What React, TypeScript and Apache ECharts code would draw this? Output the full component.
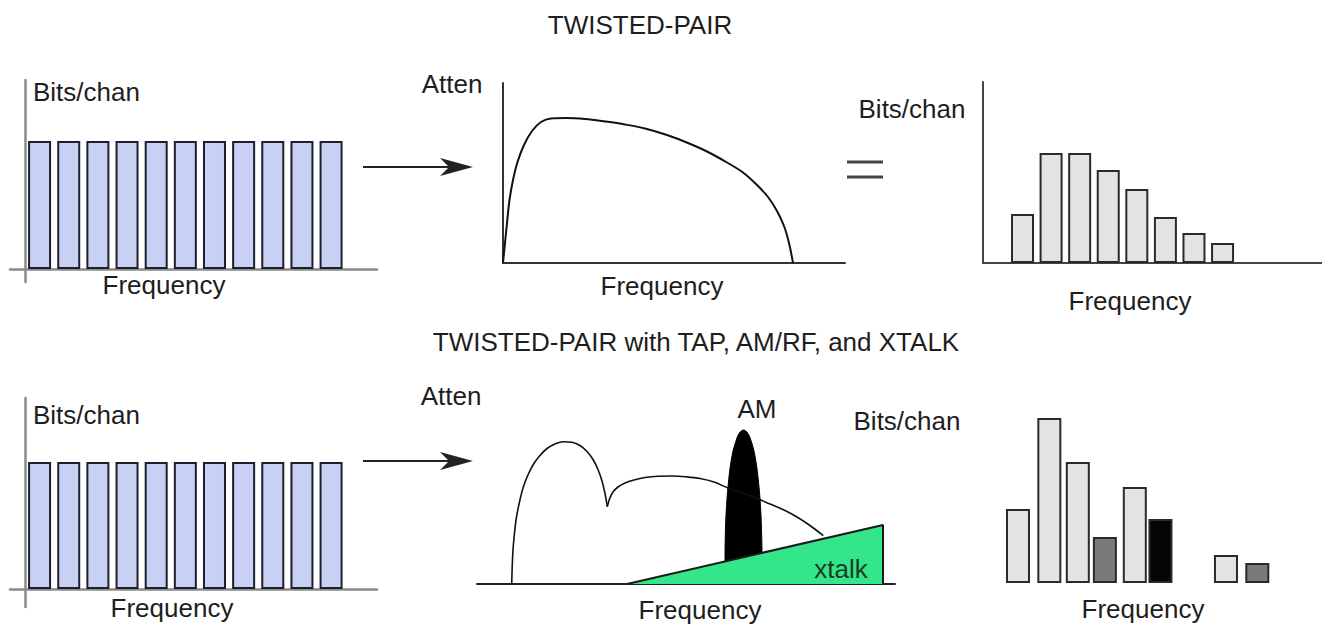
import React, { useEffect, useRef } from "react";
import * as echarts from "echarts";

// ---------- data (arbitrary units) ----------
// Top-left: flat bit loading before the line
const tlFreq = [0.5, 1.5, 2.5, 3.5, 4.5, 5.5, 6.5, 7.5, 8.5, 9.5, 10.5];
const tlBits = [12.8, 12.8, 12.8, 12.8, 12.8, 12.8, 12.8, 12.8, 12.8, 12.8, 12.8];
// Bottom-left
const blFreq = [0.5, 1.5, 2.5, 3.5, 4.5, 5.5, 6.5, 7.5, 8.5, 9.5, 10.5];
const blBits = [12.7, 12.7, 12.7, 12.7, 12.7, 12.7, 12.7, 12.7, 12.7, 12.7, 12.7];

// Top-middle attenuation curve
const tmFreq = [0, 0.2, 0.4, 0.65, 1.0, 1.45, 2.1, 2.9, 3.8, 4.8, 6.3, 8.2, 10.2, 12.2, 14.2, 16.4, 18.5, 20.5, 22.4, 24.0, 25.4, 26.5, 27.4, 28.1, 28.6, 29.0];
const tmAtten = [0, 2.0, 4.0, 6.3, 8.3, 10.1, 11.8, 13.2, 14.1, 14.45, 14.5, 14.4, 14.15, 13.85, 13.45, 12.8, 12.0, 11.1, 10.05, 9.05, 7.8, 6.6, 5.2, 3.7, 2.0, 0];

// Top-right resulting bit loading
const trFreq = [1, 2, 3, 4, 5, 6, 7, 8];
const trBits = [4.9, 11.0, 11.0, 9.3, 7.4, 4.6, 3.0, 2.0];

// Bottom-middle: attenuation with bridge tap notch
const bmHump1Freq = [3.47, 3.52, 3.6, 3.75, 3.95, 4.25, 4.6, 5.05, 5.6, 6.25, 7.0, 7.8, 8.63, 9.5, 10.3, 11.0, 11.6, 12.1, 12.5, 12.8, 13.03];
const bmHump1Atten = [0, 1.7, 3.4, 5.1, 6.7, 8.2, 9.6, 10.8, 11.9, 12.8, 13.55, 14.0, 14.23, 14.17, 13.85, 13.25, 12.45, 11.45, 10.3, 9.05, 7.73];
const bmHump2Freq = [13.03, 13.25, 13.6, 14.1, 14.8, 15.7, 16.8, 18.1, 19.5, 20.9, 22.3, 23.7, 25.1, 26.5, 27.9, 29.3, 30.7, 32.0, 33.3, 34.63];
const bmHump2Atten = [7.73, 8.5, 9.2, 9.7, 10.1, 10.4, 10.65, 10.78, 10.8, 10.72, 10.55, 10.2, 9.6, 9.1, 8.6, 8.0, 7.4, 6.7, 5.85, 4.83];
// AM/RF ingress
const amFreq = [24.8, 24.82, 24.93, 25.17, 25.52, 25.93, 26.24, 26.65, 27.06, 27.38, 27.78, 28.13, 28.37, 28.48, 28.5];
const amLevel = [2.2, 4.4, 7.4, 10.4, 12.9, 14.4, 15.1, 15.4, 15.1, 14.4, 12.9, 10.4, 7.4, 4.4, 3.0];
// crosstalk
const xtalkFreq = [15.0, 40.6, 40.6];
const xtalkLevel = [0, 5.9, 0];

// Bottom-right: resulting bit loading
const brFreq = [1, 2.1, 3.1, 4.05, 5.1, 6.0, 8.3, 9.4];
const brBits = [7.4, 16.5, 12.1, 4.6, 9.6, 6.4, 2.8, 2.0];
const brShade = ["light", "light", "light", "mid", "light", "dark", "light", "mid"];

// ---------- labels ----------
const titleTop = "TWISTED-PAIR";
const titleBottom = "TWISTED-PAIR with TAP, AM/RF, and XTALK";
const bitsLabel = "Bits/chan";
const attenLabel = "Atten";
const freqLabel = "Frequency";
const amLabel = "AM";
const xtalkLabel = "xtalk";

const FONT = '"Liberation Sans", Arial, Helvetica, sans-serif';
const TEXT = "#1e1e1e";

const shadeColor: Record<string, string> = { light: "#e4e4e4", mid: "#7a7a7a", dark: "#050505" };

function zip(xs: number[], ys: number[]) {
  return xs.map((x, i) => [x, ys[i]]);
}

function axis(gridIndex: number, min: number, max: number, show: boolean, onZero: boolean, color: string, width: number) {
  return {
    type: "value",
    gridIndex,
    min,
    max,
    axisLine: { show, onZero, lineStyle: { color, width } },
    axisTick: { show: false },
    axisLabel: { show: false },
    splitLine: { show: false },
  };
}

function txt(text: string, x: number, y: number, align = "center", size = 26, fill = TEXT) {
  return {
    type: "text",
    x,
    y,
    z: 100,
    silent: true,
    style: { text, fontSize: size, fontFamily: FONT, fill, align, verticalAlign: "middle" },
  };
}

function arrow(x1: number, tip: number, y: number) {
  return [
    { type: "line", z: 100, shape: { x1, y1: y, x2: tip - 16, y2: y }, style: { stroke: "#222", lineWidth: 2 } },
    {
      type: "polygon",
      z: 100,
      shape: { points: [[tip, y], [tip - 33, y - 9], [tip - 24, y], [tip - 33, y + 9]] },
      style: { fill: "#222" },
    },
  ];
}

function curve(xi: number, xs: number[], ys: number[], width: number) {
  return {
    type: "line",
    xAxisIndex: xi,
    yAxisIndex: xi,
    smooth: 0.35,
    showSymbol: false,
    data: zip(xs, ys),
    lineStyle: { color: "#111", width },
  };
}

function buildOption() {
  return {
    animation: false,
    backgroundColor: "#ffffff",
    grid: [
      { left: 10, top: 80, width: 367, height: 202 },
      { left: 10, top: 398, width: 367, height: 209 },
      { left: 503, top: 83, width: 342, height: 180 },
      { left: 983, top: 82, width: 339, height: 181 },
      { left: 477, top: 400, width: 418, height: 184 },
      { left: 989.5, top: 400, width: 300, height: 183 },
    ],
    xAxis: [
      axis(0, -0.515, 12.075, true, true, "#8a8a8a", 2.5),
      axis(1, -0.515, 12.075, true, true, "#8a8a8a", 2.5),
      axis(2, 0, 34.2, true, true, "#333", 2),
      axis(3, -0.3826, 11.48, true, true, "#444", 2),
      axis(4, 0, 41.8, true, true, "#222", 2),
      axis(5, 0, 10.53, false, false, "#444", 2),
    ],
    yAxis: [
      axis(0, -1.3, 18.9, true, true, "#8a8a8a", 2.5),
      axis(1, -1.8, 19.1, true, true, "#8a8a8a", 2.5),
      axis(2, 0, 18, true, false, "#333", 2),
      axis(3, 0, 18.1, true, false, "#444", 2),
      axis(4, 0, 18.4, false, false, "#222", 2),
      axis(5, 0, 18.3, false, false, "#222", 2),
    ],
    series: [
      {
        type: "bar",
        xAxisIndex: 0,
        yAxisIndex: 0,
        barWidth: 23,
        data: zip(tlFreq, tlBits),
        itemStyle: { color: "#c8d1f3", borderColor: "#1b1f2e", borderWidth: 2 },
      },
      {
        type: "bar",
        xAxisIndex: 1,
        yAxisIndex: 1,
        barWidth: 23,
        data: zip(blFreq, blBits),
        itemStyle: { color: "#c8d1f3", borderColor: "#1b1f2e", borderWidth: 2 },
      },
      curve(2, tmFreq, tmAtten, 2),
      {
        type: "bar",
        xAxisIndex: 3,
        yAxisIndex: 3,
        barWidth: 23,
        data: zip(trFreq, trBits),
        itemStyle: { color: "#e3e3e3", borderColor: "#2a2a2a", borderWidth: 2 },
      },
      curve(4, bmHump1Freq, bmHump1Atten, 1.6),
      curve(4, bmHump2Freq, bmHump2Atten, 1.6),
      {
        type: "line",
        xAxisIndex: 4,
        yAxisIndex: 4,
        smooth: 0.4,
        showSymbol: false,
        data: zip(amFreq, amLevel),
        lineStyle: { color: "#000", width: 1 },
        areaStyle: { color: "#000", opacity: 1 },
      },
      {
        type: "line",
        xAxisIndex: 4,
        yAxisIndex: 4,
        showSymbol: false,
        data: zip(xtalkFreq, xtalkLevel),
        lineStyle: { color: "#1a1a1a", width: 2 },
        areaStyle: { color: "#34e68a", opacity: 1 },
      },
      {
        type: "bar",
        xAxisIndex: 5,
        yAxisIndex: 5,
        barWidth: 24,
        data: brFreq.map((f, i) => ({
          value: [f, brBits[i]],
          itemStyle: { color: shadeColor[brShade[i]], borderColor: "#2a2a2a", borderWidth: 2 },
        })),
      },
    ],
    graphic: {
      elements: [
        txt(titleTop, 640, 25),
        txt(titleBottom, 696, 342),
        // top-left
        txt(bitsLabel, 33, 92, "left"),
        txt(freqLabel, 164, 285),
        // top-middle
        txt(attenLabel, 452, 84),
        txt(freqLabel, 662, 286),
        // top-right
        txt(bitsLabel, 912, 109),
        txt(freqLabel, 1130, 301),
        // bottom-left
        txt(bitsLabel, 33, 415, "left"),
        txt(freqLabel, 172, 608),
        // bottom-middle
        txt(attenLabel, 451, 396),
        txt(amLabel, 757, 409),
        txt(xtalkLabel, 841, 569, "center", 26, "#1b3a25"),
        txt(freqLabel, 700, 610),
        // bottom-right
        txt(bitsLabel, 907, 421),
        txt(freqLabel, 1143, 609),
        // arrows
        ...arrow(363, 473, 167),
        ...arrow(363, 473, 461),
        // equals sign
        { type: "line", z: 100, shape: { x1: 847, y1: 162, x2: 883, y2: 162 }, style: { stroke: "#444", lineWidth: 3 } },
        { type: "line", z: 100, shape: { x1: 847, y1: 177, x2: 883, y2: 177 }, style: { stroke: "#444", lineWidth: 3 } },
      ],
    },
  };
}

export default function App() {
  const ref = useRef<HTMLDivElement>(null);
  useEffect(() => {
    const chart = echarts.init(ref.current as HTMLDivElement, null, { renderer: "svg" });
    chart.setOption(buildOption() as any);
    return () => chart.dispose();
  }, []);
  return (
    <div
      ref={ref}
      style={{ position: "absolute", left: 0, top: 0, width: 1322, height: 626, background: "#fff" }}
    />
  );
}
